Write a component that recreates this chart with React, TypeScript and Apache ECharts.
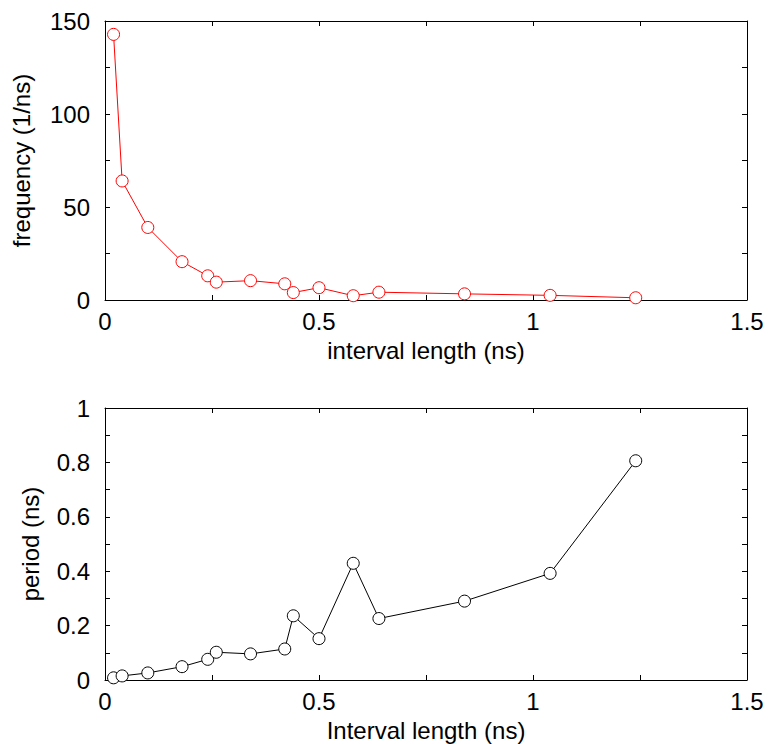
import React, { useEffect, useRef } from "react";
import * as echarts from "echarts";

const intervalLengths = [0.02, 0.04, 0.1, 0.18, 0.24, 0.26, 0.34, 0.42, 0.44, 0.5, 0.58, 0.64, 0.84, 1.04, 1.24];
const frequencies = [142.8, 64, 39, 20.6, 13, 9.6, 10.4, 8.7, 4, 6.6, 2.3, 4.2, 3.3, 2.5, 1.2];
const periods = [0.008, 0.015, 0.026, 0.049, 0.076, 0.102, 0.096, 0.114, 0.236, 0.152, 0.429, 0.226, 0.29, 0.392, 0.806];

const topXTicks = { min: 0, max: 1.5, interval: 0.5 };
const topYTicks = { min: 0, max: 150, interval: 50 };
const botYTicks = { min: 0, max: 1, interval: 0.2 };

const FONT = "'Liberation Sans', Arial, Helvetica, sans-serif";

export default function App() {
  const ref = useRef<HTMLDivElement>(null);
  useEffect(() => {
    if (!ref.current) return;
    const chart = echarts.init(ref.current, null, { renderer: "svg" });
    const lineStyle = { color: "#000", width: 1 };
    const tick = { show: true, inside: true, length: 5, lineStyle: { color: "#000", width: 1 } };
    const minor = { show: true, splitNumber: 2, length: 5, lineStyle: { color: "#000", width: 1 } };
    const label = { color: "#000", fontSize: 24, fontFamily: FONT, margin: 9 };
    const nameStyle = { color: "#000", fontSize: 24, fontFamily: FONT };

    const mkX = (grid: number, name: string, primary: boolean) => ({
      type: "value",
      gridIndex: grid,
      position: primary ? "bottom" : "top",
      ...topXTicks,
      name: primary ? name : "",
      nameLocation: "middle",
      nameGap: 38,
      nameTextStyle: nameStyle,
      axisLine: { show: true, onZero: false, lineStyle },
      axisTick: tick,
      minorTick: minor,
      axisLabel: { ...label, show: primary },
      splitLine: { show: false },
    });
    const mkY = (grid: number, ticks: any, name: string, gap: number, primary: boolean) => ({
      type: "value",
      gridIndex: grid,
      position: primary ? "left" : "right",
      ...ticks,
      name: primary ? name : "",
      nameLocation: "middle",
      nameGap: gap,
      nameRotate: 90,
      nameTextStyle: nameStyle,
      axisLine: { show: true, onZero: false, lineStyle },
      axisTick: tick,
      minorTick: minor,
      axisLabel: { ...label, show: primary, margin: 15 },
      splitLine: { show: false },
    });

    const markerStyle = (c: string) => ({ color: "#fff", borderColor: c, borderWidth: 1 });

    chart.setOption({
      animation: false,
      backgroundColor: "#fff",
      grid: [
        { left: 105, right: 24, top: 21, height: 279 },
        { left: 105, right: 24, top: 408, height: 272 },
      ],
      xAxis: [
        mkX(0, "interval length (ns)", true),
        mkX(0, "", false),
        mkX(1, "Interval length (ns)", true),
        mkX(1, "", false),
      ],
      yAxis: [
        mkY(0, topYTicks, "frequency (1/ns)", 72, true),
        mkY(0, topYTicks, "", 0, false),
        mkY(1, botYTicks, "period (ns)", 63, true),
        mkY(1, botYTicks, "", 0, false),
      ],
      series: [
        {
          type: "line",
          xAxisIndex: 0,
          yAxisIndex: 0,
          data: intervalLengths.map((x, i) => [x, frequencies[i]]),
          symbol: "circle",
          symbolSize: 12,
          lineStyle: { color: "#ff0000", width: 1 },
          itemStyle: markerStyle("#ff0000"),
        },
        {
          type: "line",
          xAxisIndex: 2,
          yAxisIndex: 2,
          data: intervalLengths.map((x, i) => [x, periods[i]]),
          symbol: "circle",
          symbolSize: 12,
          lineStyle: { color: "#000", width: 1 },
          itemStyle: markerStyle("#000"),
        },
      ],
    });
    return () => chart.dispose();
  }, []);
  return (
    <div
      ref={ref}
      style={{ position: "fixed", left: 0, top: 0, width: 771, height: 744, background: "#fff" }}
    />
  );
}
